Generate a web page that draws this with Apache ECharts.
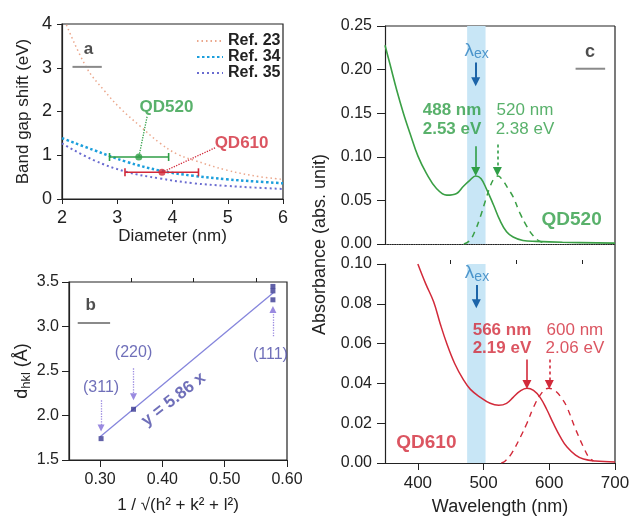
<!DOCTYPE html>
<html><head><meta charset="utf-8">
<script src="https://cdn.jsdelivr.net/npm/echarts@6/dist/echarts.min.js"></script>
<style>html,body{margin:0;padding:0;background:#fff}#c{width:633px;height:522px}</style>
</head><body><div id="c"></div>
<script>
// ---------- Panel a data ----------
const ref23 = [[2.08,3.98],[2.45,2.99],[2.75,2.5],[3.05,2.08],[3.41,1.67],[3.77,1.28],[4.08,1.03],[4.38,0.89],[4.98,0.66],[5.58,0.51],[6.0,0.45]];
const ref34 = [[2.0,1.39],[2.57,1.12],[3.17,0.85],[3.77,0.65],[4.38,0.53],[4.98,0.45],[5.5,0.40],[6.0,0.36]];
const ref35 = [[2.0,1.27],[2.57,0.89],[3.17,0.62],[3.77,0.47],[4.38,0.36],[4.98,0.30],[5.5,0.26],[6.0,0.23]];
const qdNames = ['QD520','QD610'];
const qdDiam = [3.39, 3.81];
const qdShift = [0.96, 0.61];
const qdDiamMin = [2.86, 3.14];
const qdDiamMax = [3.93, 4.47];
const aXTicks = [2,3,4,5,6];
const aYTicks = [0,1,2,3,4];
// ---------- Panel b data ----------
const hklLabels = ['(311)','(220)','(111)'];
const hklInvSqrt = [0.3015, 0.3536, 0.5774];
const dhklPoints = [[0.3015,1.74],[0.3536,2.07],[0.5774,3.30],[0.5774,3.40],[0.5774,3.45]];
const fitLine = [[0.30,1.76],[0.578,3.38]];
const bXTicks = [0.30,0.40,0.50,0.60];
const bXMinor = [0.35,0.45,0.55];
// ---------- Panel c data ----------
const qd520Abs = [[350,0.228],[358,0.205],[368,0.176],[378,0.150],[388,0.127],[400,0.101],[413,0.081],[428,0.064],[444,0.056],[459,0.058],[469,0.066],[479,0.073],[488,0.078],[496,0.075],[505,0.062],[515,0.045],[525,0.027],[535,0.014],[545,0.008],[560,0.004],[580,0.003],[620,0.002],[700,0.001]];
const qd520Em = [[470,0.0],[479,0.004],[487,0.015],[495,0.031],[503,0.050],[510,0.066],[516,0.075],[522,0.078],[530,0.072],[537,0.064],[545,0.054],[555,0.036],[566,0.020],[576,0.009],[586,0.003],[596,0.001]];
const qd610Abs = [[400,0.100],[412,0.090],[424,0.081],[434,0.070],[444,0.060],[456,0.050],[469,0.042],[480,0.037],[495,0.033],[510,0.030],[523,0.029],[535,0.030],[545,0.033],[555,0.036],[566,0.0376],[576,0.0365],[586,0.033],[596,0.027],[606,0.020],[617,0.013],[627,0.008],[640,0.004],[652,0.002],[670,0.001],[700,0.0005]];
const qd610Em = [[527,0.0],[533,0.001],[543,0.005],[556,0.013],[566,0.020],[576,0.028],[588,0.035],[599,0.0376],[610,0.036],[620,0.032],[627,0.028],[640,0.017],[652,0.008],[660,0.003],[667,0.001]];
const excitationBand = [475, 503];
const cXTicks = [400,500,600,700];
const cXMinor = [450,550,650];

const FONT = "'Liberation Sans', Arial, Helvetica, sans-serif";
const INK = '#222';
const GREEN = '#2f9e46';
const RED = '#d22a3a';
const BLUE = '#2a7fc0';
const PURP = '#4b4ba8';

const chart = echarts.init(document.getElementById('c'), null, {renderer:'canvas'});

function txt(xi, yi, x, y, text, o) {
  o = o || {};
  return {type:'scatter', xAxisIndex:xi, yAxisIndex:yi, data:[[x,y]], symbolSize:0, silent:true, z:20,
    itemStyle:{color:'rgba(0,0,0,0)'},
    label:Object.assign({show:true, position:'inside', formatter:text, fontFamily:FONT, fontSize:16, color:INK, align:'center', verticalAlign:'middle'}, o)};
}
function arrow(xi, yi, from, to, color, type, width, size) {
  return {type:'lines', coordinateSystem:'cartesian2d', xAxisIndex:xi, yAxisIndex:yi, silent:true, z:15,
    symbol:['none','triangle'], symbolSize:size||8,
    lineStyle:{color:color, width:width||1.5, type:type||'solid', opacity:1, curveness:0},
    data:[{coords:[from,to]}]};
}
function seg(xi, yi, pts, color, type, width, name) {
  return {type:'line', name:name, xAxisIndex:xi, yAxisIndex:yi, data:pts, symbol:'none', silent:true,
    lineStyle:{color:color, type:type||'solid', width:width||1.5}, z:8};
}
const axisLineStyle = {lineStyle:{color:INK, width:1.2}};
const lbl = (m, fs) => ({fontFamily:FONT, fontSize:fs||16, color:INK, margin:m});

const option = {
  animation:false,
  backgroundColor:'#fff',
  grid:[
    {left:62, top:24, width:221, height:175, show:true, borderColor:INK, borderWidth:1.2},
    {left:69, top:282, width:218, height:178, show:true, borderColor:INK, borderWidth:1.2},
    {left:385, top:26, width:230, height:218},
    {left:385, top:264, width:230, height:199}
  ],
  legend:{data:['Ref. 23','Ref. 34','Ref. 35'], orient:'vertical', left:191, top:28, itemWidth:26, itemHeight:10, itemGap:0,
    itemStyle:{opacity:0}, 
    selectedMode:false, textStyle:{fontFamily:FONT, fontSize:16, fontWeight:'bold', color:INK}},
  xAxis:[
    {gridIndex:0, type:'value', min:2, max:6, interval:1, axisLine:axisLineStyle, axisTick:{length:5, lineStyle:{color:INK}}, splitLine:{show:false},
     axisLabel:lbl(10,18), name:'Diameter (nm)', nameLocation:'middle', nameGap:25, nameTextStyle:{fontFamily:FONT, fontSize:17, color:INK}},
    {gridIndex:1, type:'value', min:0.25, max:0.60, axisLine:axisLineStyle, splitLine:{show:false},
     axisTick:{length:7, customValues:bXTicks, lineStyle:{color:INK}},
     axisLabel:Object.assign(lbl(12,16), {customValues:bXTicks, formatter:v=>v.toFixed(2)}),
     name:'1 / \u221A(h\u00B2 + k\u00B2 + l\u00B2)', nameLocation:'middle', nameGap:37, nameTextStyle:{fontFamily:FONT, fontSize:17, color:INK}},
    {gridIndex:1, type:'value', min:0.25, max:0.60, axisLine:{show:false}, splitLine:{show:false},
     axisTick:{length:4, customValues:bXMinor, lineStyle:{color:INK}}, axisLabel:{show:false}},
    {gridIndex:2, type:'value', min:350, max:700, axisLine:{lineStyle:{color:INK, type:'dotted', width:1.2}}, axisTick:{show:false}, axisLabel:{show:false}, splitLine:{show:false}},
    {gridIndex:3, type:'value', min:350, max:700, axisLine:axisLineStyle, splitLine:{show:false},
     axisTick:{length:7, customValues:cXTicks, lineStyle:{color:INK}},
     axisLabel:Object.assign(lbl(12,17), {customValues:cXTicks}),
     name:'Wavelength (nm)', nameLocation:'middle', nameGap:35, nameTextStyle:{fontFamily:FONT, fontSize:18, color:INK}},
    {gridIndex:3, type:'value', min:350, max:700, axisLine:{show:false}, splitLine:{show:false},
     axisTick:{length:4, customValues:cXMinor, lineStyle:{color:INK}}, axisLabel:{show:false}}
  ],
  yAxis:[
    {gridIndex:0, type:'value', min:0, max:4, interval:1, axisLine:axisLineStyle, axisTick:{length:5, lineStyle:{color:INK}}, splitLine:{show:false},
     axisLabel:lbl(10,18), name:'Band gap shift (eV)', nameLocation:'middle', nameGap:30, nameTextStyle:{fontFamily:FONT, fontSize:17, color:INK}},
    {gridIndex:1, type:'value', min:1.5, max:3.5, interval:0.5, axisLine:axisLineStyle, axisTick:{length:7, lineStyle:{color:INK}}, splitLine:{show:false},
     axisLabel:Object.assign(lbl(10,16), {formatter:v=>v.toFixed(1)}),
     name:'{d|d}{s|hkl}{d| (\u00C5)}', nameLocation:'middle', nameGap:25,
     nameTextStyle:{fontFamily:FONT, color:INK, rich:{d:{fontFamily:FONT, fontSize:18, color:INK}, s:{fontFamily:FONT, fontSize:13, color:INK, padding:[9,0,0,0]}}}},
    {gridIndex:2, type:'value', min:0, max:0.25, interval:0.05, axisLine:axisLineStyle, axisTick:{length:8, lineStyle:{color:INK}}, splitLine:{show:false},
     axisLabel:Object.assign(lbl(13,16), {formatter:v=>v.toFixed(2)})},
    {gridIndex:3, type:'value', min:0, max:0.10, interval:0.02, axisLine:axisLineStyle, axisTick:{length:8, lineStyle:{color:INK}}, splitLine:{show:false},
     axisLabel:Object.assign(lbl(13,16), {formatter:v=>v.toFixed(2)})}
  ],
  series:[]
};

const S = option.series;
// ----- Panel a -----
S.push({type:'line', name:'Ref. 23', xAxisIndex:0, yAxisIndex:0, data:ref23, smooth:0.4, symbol:'none', lineStyle:{color:'#eba78c', type:[1.5,3], width:1.5}, itemStyle:{color:'#eba78c'}});
S.push({type:'line', name:'Ref. 34', xAxisIndex:0, yAxisIndex:0, data:ref34, smooth:0.4, symbol:'none', lineStyle:{color:'#1c9fdc', type:[2.5,2.5], width:2.5}, itemStyle:{color:'#1c9fdc'}});
S.push({type:'line', name:'Ref. 35', xAxisIndex:0, yAxisIndex:0, data:ref35, smooth:0.4, symbol:'none', lineStyle:{color:'#6a6cd0', type:[2,3], width:2}, itemStyle:{color:'#6a6cd0'}});
S.push(seg(0,0,[[2.19,3.02],[2.72,3.02]],'#8a8a8a','solid',2));
const qdColors = [GREEN, RED];
S.push({type:'custom', xAxisIndex:0, yAxisIndex:0, silent:true, z:9,
  data: qdNames.map((n,i)=>[qdDiam[i], qdShift[i], qdDiamMin[i], qdDiamMax[i], i]),
  encode:{x:[0,2,3], y:1},
  renderItem:(params, api)=>{
    const y = api.value(1), c = qdColors[api.value(4)];
    const p0 = api.coord([api.value(2), y]), p1 = api.coord([api.value(3), y]);
    const st = {stroke:c, lineWidth:1.6};
    return {type:'group', children:[
      {type:'line', shape:{x1:p0[0], y1:p0[1], x2:p1[0], y2:p1[1]}, style:st},
      {type:'line', shape:{x1:p0[0], y1:p0[1]-4, x2:p0[0], y2:p0[1]+4}, style:st},
      {type:'line', shape:{x1:p1[0], y1:p1[1]-4, x2:p1[0], y2:p1[1]+4}, style:st}
    ]};
  }});
qdNames.forEach((n,i)=>{
  S.push({type:'scatter', xAxisIndex:0, yAxisIndex:0, data:[[qdDiam[i], qdShift[i]]], symbol:'circle', symbolSize:7, itemStyle:{color:qdColors[i]}, silent:true, z:10});
});
S.push(seg(0,0,[[3.54,1.88],[qdDiam[0],qdShift[0]]],GREEN,'dotted',1.3));
S.push(seg(0,0,[[4.77,1.17],[qdDiam[1],qdShift[1]]],RED,'dotted',1.3));
S.push(txt(0,0,3.89,2.10,qdNames[0],{color:GREEN, fontWeight:'bold', fontSize:17}));
S.push(txt(0,0,5.25,1.27,qdNames[1],{color:RED, fontWeight:'bold', fontSize:17}));
S.push(txt(0,0,2.48,3.42,'a',{fontWeight:'bold', fontSize:17}));

// ----- Panel b -----
S.push(seg(1,1,fitLine,'#8585dc','solid',1.3));
S.push({type:'scatter', xAxisIndex:1, yAxisIndex:1, data:dhklPoints, symbol:'rect', symbolSize:5, itemStyle:{color:'#3a3a92'}, silent:true, z:10});
S.push(seg(1,1,[[0.264,3.04],[0.316,3.04]],'#8a8a8a','solid',2));
S.push(txt(1,1,0.285,3.24,'b',{fontWeight:'bold', fontSize:17}));
S.push(txt(1,1,hklInvSqrt[0],2.31,hklLabels[0],{color:PURP}));
S.push(txt(1,1,hklInvSqrt[1],2.71,hklLabels[1],{color:PURP}));
S.push(txt(1,1,hklInvSqrt[2]-0.004,2.68,hklLabels[2],{color:PURP}));
S.push(arrow(1,1,[hklInvSqrt[0],2.17],[hklInvSqrt[0],1.86],'#9a8ae0','dotted',1.3,7));
S.push(arrow(1,1,[hklInvSqrt[1],2.53],[hklInvSqrt[1],2.21],'#9a8ae0','dotted',1.3,7));
S.push(arrow(1,1,[hklInvSqrt[2],2.89],[hklInvSqrt[2],3.19],'#9a8ae0','dotted',1.3,7));
S.push(txt(1,1,0.418,2.18,'y = 5.86 x',{color:PURP, fontWeight:'bold', fontSize:17, rotate:38}));

// ----- Panel c top -----
S.push({type:'line', xAxisIndex:3, yAxisIndex:2, data:[[excitationBand[0],0]], symbol:'none', silent:true, z:1, lineStyle:{width:0},
  markArea:{silent:true, itemStyle:{color:'#c8e6f6'}, data:[[{xAxis:excitationBand[0]},{xAxis:excitationBand[1]}]]}});
S.push({type:'line', xAxisIndex:3, yAxisIndex:2, data:qd520Abs, smooth:0.4, symbol:'none', silent:true, z:6, lineStyle:{color:'#3a9f45', width:1.6}});
S.push({type:'line', xAxisIndex:3, yAxisIndex:2, data:qd520Em, smooth:0.4, symbol:'none', silent:true, z:6, lineStyle:{color:'#3a9f45', width:1.5, type:[6,5]}});
S.push(txt(3,2,489.5,0.222,'{a|\u03BB}{b|ex}',{rich:{a:{fontFamily:FONT, fontSize:19, color:BLUE}, b:{fontFamily:FONT, fontSize:14, color:BLUE, padding:[8,0,0,0]}}}));
S.push(arrow(3,2,[488,0.208],[488,0.186],'#1c64a8','solid',2,9));
S.push(txt(3,2,452,0.153,'488 nm',{color:GREEN, fontWeight:'bold', fontSize:17}));
S.push(txt(3,2,452,0.131,'2.53 eV',{color:GREEN, fontWeight:'bold', fontSize:17}));
S.push(txt(3,2,563,0.153,'520 nm',{color:GREEN, fontSize:17}));
S.push(txt(3,2,563,0.131,'2.38 eV',{color:GREEN, fontSize:17}));
S.push(arrow(3,2,[488,0.112],[488,0.083],GREEN,'solid',1.6,9));
S.push(arrow(3,2,[521,0.114],[521,0.083],GREEN,[3,3],1.6,9));
S.push(txt(3,2,662,0.220,'c',{fontWeight:'bold', fontSize:18}));
S.push(seg(3,2,[[640,0.201],[685,0.201]],'#8a8a8a','solid',2));
S.push(txt(3,2,634,0.0275,'QD520',{color:GREEN, fontWeight:'bold', fontSize:19}));

// ----- Panel c bottom -----
S.push({type:'line', xAxisIndex:4, yAxisIndex:3, data:[[excitationBand[0],0]], symbol:'none', silent:true, z:1, lineStyle:{width:0},
  markArea:{silent:true, itemStyle:{color:'#c8e6f6'}, data:[[{xAxis:excitationBand[0]},{xAxis:excitationBand[1]}]]}});
S.push({type:'line', xAxisIndex:4, yAxisIndex:3, data:qd610Abs, smooth:0.4, symbol:'none', silent:true, z:6, lineStyle:{color:RED, width:1.5}});
S.push({type:'line', xAxisIndex:4, yAxisIndex:3, data:qd610Em, smooth:0.4, symbol:'none', silent:true, z:6, lineStyle:{color:RED, width:1.4, type:[6,5]}});
S.push(txt(4,3,490,0.0955,'{a|\u03BB}{b|ex}',{rich:{a:{fontFamily:FONT, fontSize:19, color:BLUE}, b:{fontFamily:FONT, fontSize:14, color:BLUE, padding:[8,0,0,0]}}}));
S.push(arrow(4,3,[489,0.0895],[489,0.080],'#1c64a8','solid',2,9));
S.push(txt(4,3,528,0.0668,'566 nm',{color:RED, fontWeight:'bold', fontSize:17}));
S.push(txt(4,3,528,0.0578,'2.19 eV',{color:RED, fontWeight:'bold', fontSize:17}));
S.push(txt(4,3,639,0.0668,'600 nm',{color:RED, fontSize:17}));
S.push(txt(4,3,639,0.0578,'2.06 eV',{color:RED, fontSize:17}));
S.push(arrow(4,3,[566,0.052],[566,0.0395],RED,'solid',1.6,9));
S.push(arrow(4,3,[600,0.052],[600,0.0395],RED,[3,3],1.6,9));
S.push(txt(4,3,413,0.0102,'QD610',{color:RED, fontWeight:'bold', fontSize:19}));

chart.setOption(option);

// frame for panel c and shared y-axis title
const tl = chart.convertToPixel({xAxisIndex:3, yAxisIndex:2}, [350, 0.25]);
const tr = chart.convertToPixel({xAxisIndex:3, yAxisIndex:2}, [700, 0.25]);
const br = chart.convertToPixel({xAxisIndex:4, yAxisIndex:3}, [700, 0]);
const midY = (tl[1] + br[1]) / 2;
chart.setOption({graphic:[
  {type:'line', shape:{x1:tl[0], y1:tl[1], x2:tr[0], y2:tr[1]}, style:{stroke:INK, lineWidth:1.2}, silent:true},
  {type:'line', shape:{x1:tr[0], y1:tr[1], x2:br[0], y2:br[1]}, style:{stroke:INK, lineWidth:1.2}, silent:true},
  {type:'text', x:320, y:midY, rotation:Math.PI/2, silent:true,
   style:{text:'Absorbance (abs. unit)', font:'18px ' + FONT, fill:INK, textAlign:'center', textVerticalAlign:'middle'}}
]});
</script></body></html>
